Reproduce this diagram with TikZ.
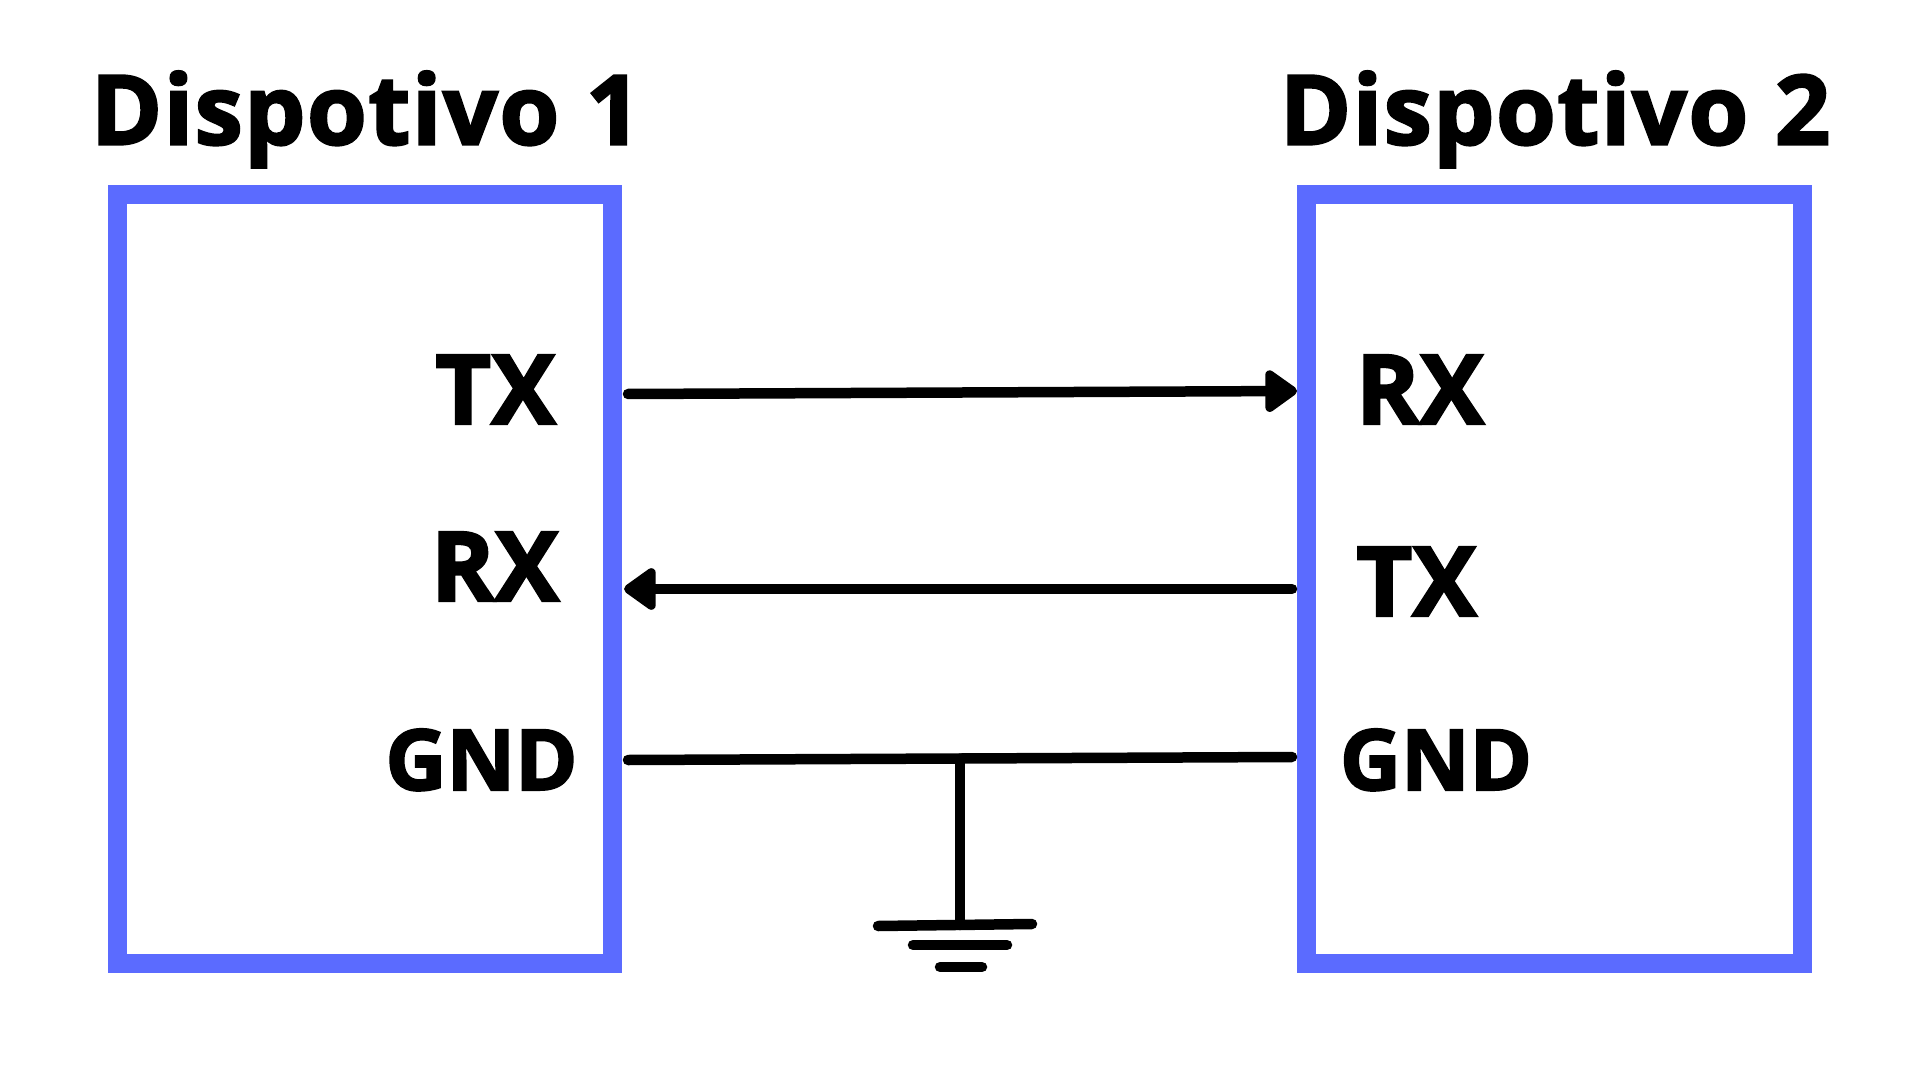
\documentclass[tikz,border=0pt]{standalone}
\usepackage{fontspec}
\usepackage{xcolor}
\usetikzlibrary{arrows.meta}
\setmainfont[BoldFeatures={FakeBold=2.4}]{Open Sans}
\definecolor{devblue}{HTML}{5B6BFF}

\begin{document}
\begin{tikzpicture}[>={Triangle[round,length=10pt,width=13.5pt]},
  devbox/.style={draw=devblue, line width=0.19cm, minimum width=4.955cm, minimum height=7.69cm, inner sep=0pt},
  title/.style={anchor=base, font=\fontsize{27.5}{30}\selectfont\bfseries\addfontfeature{LetterSpace=1.6}},
  port/.style={anchor=base, font=\fontsize{27.5}{30}\selectfont\bfseries},
  gndport/.style={anchor=base, font=\fontsize{24}{28}\selectfont\bfseries},
  wire/.style={line width=0.105cm, line cap=round, line join=round}]
  \useasboundingbox (0,0) rectangle (19.2,-10.8);
  \node[devbox] (box1) at (3.65,-5.79) {};
  \node[devbox] (box2) at (15.545,-5.79) {};
  \node[title] (title1) at (3.66,-1.445) {Dispotivo 1};
  \node[title] (title2) at (15.55,-1.445) {Dispotivo 2};
  \node[port] (tx1) at (4.955,-4.24) {TX};
  \node[port] (rx1) at (4.95,-6.01) {RX};
  \node[gndport] (gnd1) at (4.815,-7.90) {GND};
  \node[port] (rx2) at (14.20,-4.24) {RX};
  \node[port] (tx2) at (14.165,-6.16) {TX};
  \node[gndport] (gnd2) at (14.36,-7.90) {GND};
  \coordinate (txa) at (6.28,-3.94);
  \coordinate (txb) at (12.97,-3.91);
  \coordinate (rxa) at (12.92,-5.89);
  \coordinate (rxb) at (6.24,-5.89);
  \coordinate (gnda) at (6.28,-7.60);
  \coordinate (gndb) at (12.92,-7.57);
  \coordinate (gndtop) at (9.60,-7.585);
  \coordinate (gndbot) at (9.60,-9.25);
  \draw[->, wire] (txa) -- (txb);
  \draw[->, wire] (rxa) -- (rxb);
  \draw[wire] (gnda) -- (gndb);
  \draw[wire] (gndtop) -- (gndbot);
  \coordinate (bar1a) at (8.78,-9.26);
  \coordinate (bar1b) at (10.32,-9.24);
  \coordinate (bar2a) at (9.13,-9.45);
  \coordinate (bar2b) at (10.07,-9.45);
  \coordinate (bar3a) at (9.40,-9.67);
  \coordinate (bar3b) at (9.82,-9.67);
  \draw[wire] (bar1a) -- (bar1b);
  \draw[wire] (bar2a) -- (bar2b);
  \draw[wire] (bar3a) -- (bar3b);
\end{tikzpicture}
\end{document}
